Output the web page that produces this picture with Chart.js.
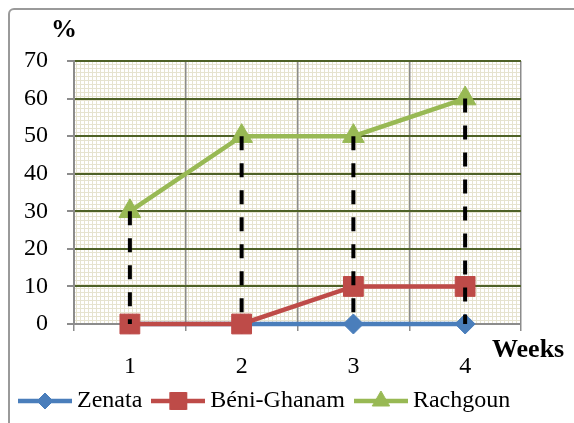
<!DOCTYPE html>
<html>
<head>
<meta charset="utf-8">
<script src="https://cdn.jsdelivr.net/npm/chart.js@4.4.1/dist/chart.umd.min.js"></script>
<style>
  html, body { margin: 0; padding: 0; background: #fff; overflow: hidden; }
  #wrap { position: relative; width: 574px; height: 423px; overflow: hidden; }
  #frame { position: absolute; left: 8px; top: 8px; width: 620px; height: 480px; border: 2px solid #9a9a9a; border-radius: 6px; pointer-events: none; }
  canvas { position: absolute; left: 0; top: 0; }
</style>
</head>
<body>
<div id="wrap">
  <canvas id="chart" width="574" height="423"></canvas>
  <div id="frame"></div>
</div>
<script>
// data
const weeks = ['1', '2', '3', '4'];
const zenata = [0, 0, 0, 0];
const beniGhanam = [0, 0, 10, 10];
const rachgoun = [30, 50, 50, 60];
const yTicks = [0, 10, 20, 30, 40, 50, 60, 70];

const FONT = "'Liberation Serif', 'Times New Roman', serif";
const BLUE = '#4a7ebb';
const RED = '#be4b48';
const GREEN = '#98b954';
const AXIS_GREY = '#8c8c8c';

// small grid fill of the plot area
function makePattern() {
    const c = document.createElement('canvas');
    c.width = 4; c.height = 4;
    const g = c.getContext('2d');
    g.fillStyle = '#ffffff';
    g.fillRect(0, 0, 4, 4);
    g.fillStyle = '#e6e3cf';
    g.fillRect(0, 0, 4, 1);
    g.fillRect(0, 0, 1, 4);
    return c;
}

// legend symbol: a line with the marker in the middle
function legendSymbol(color, style, radius) {
    const c = document.createElement('canvas');
    c.width = 54; c.height = 24;
    const g = c.getContext('2d');
    g.strokeStyle = color;
    g.lineWidth = 4.5;
    g.beginPath();
    g.moveTo(0, 12);
    g.lineTo(54, 12);
    g.stroke();
    g.fillStyle = color;
    g.lineWidth = 1;
    Chart.helpers.drawPoint(g, { pointStyle: style, radius: radius, borderWidth: 1, rotation: 0 }, 27, 12);
    return c;
}

const symbols = [
    legendSymbol(BLUE, 'rectRot', 8),
    legendSymbol(RED, 'rect', 12),
    legendSymbol(GREEN, 'triangle', 10)
];

const plotBackground = {
    id: 'plotBackground',
    beforeDraw(chart) {
        const { ctx, chartArea: a } = chart;
        ctx.save();
        ctx.fillStyle = ctx.createPattern(makePattern(), 'repeat');
        ctx.fillRect(a.left, a.top, a.right - a.left, a.bottom - a.top);
        ctx.restore();
    }
};

// black dashed drop lines from each Rachgoun point to the axis
const dropLines = {
    id: 'dropLines',
    afterDatasetsDraw(chart) {
        const { ctx, scales } = chart;
        ctx.save();
        ctx.strokeStyle = '#000';
        ctx.lineWidth = 4;
        ctx.setLineDash([14, 13]);
        rachgoun.forEach((v, i) => {
            const x = scales.x.getPixelForValue(i);
            ctx.beginPath();
            ctx.moveTo(x, scales.y.getPixelForValue(v));
            ctx.lineTo(x, scales.y.getPixelForValue(0));
            ctx.stroke();
        });
        ctx.restore();
    }
};

const axisTitles = {
    id: 'axisTitles',
    afterDraw(chart) {
        const { ctx, chartArea: a } = chart;
        ctx.save();
        ctx.fillStyle = '#000';
        ctx.font = 'bold 26px ' + FONT;
        ctx.textBaseline = 'middle';
        ctx.textAlign = 'center';
        ctx.fillText('%', a.left - 10, a.top - 31);
        ctx.textAlign = 'left';
        ctx.fillText('Weeks', a.right - 29, a.bottom + 26);
        ctx.restore();
    }
};

new Chart(document.getElementById('chart'), {
    type: 'line',
    data: {
        labels: weeks,
        datasets: [
            {
                label: 'Zenata', data: zenata, order: 3, clip: false,
                borderColor: BLUE, backgroundColor: BLUE, borderWidth: 4.5,
                pointStyle: 'rectRot', pointRadius: 10, pointBorderWidth: 1
            },
            {
                label: 'Béni-Ghanam', data: beniGhanam, order: 2, clip: false,
                borderColor: RED, backgroundColor: RED, borderWidth: 4.5,
                pointStyle: 'rect', pointRadius: 14, pointBorderWidth: 1
            },
            {
                label: 'Rachgoun', data: rachgoun, order: 1, clip: false,
                borderColor: GREEN, backgroundColor: GREEN, borderWidth: 4.5,
                pointStyle: 'triangle', pointRadius: 12.5, pointBorderWidth: 1
            }
        ]
    },
    options: {
        responsive: false,
        animation: false,
        layout: { padding: { left: 9, right: 10, top: 61, bottom: 0 } },
        scales: {
            x: {
                offset: true,
                grid: { offset: true, color: AXIS_GREY, lineWidth: 1.5, tickLength: 7, tickColor: AXIS_GREY },
                border: { color: AXIS_GREY, width: 2 },
                ticks: { color: '#000', font: { family: FONT, size: 24 }, padding: 21, maxRotation: 0 },
                afterFit(s) { s.height = 49; }
            },
            y: {
                min: 0, max: 70,
                afterBuildTicks(s) { s.ticks = yTicks.map(v => ({ value: v })); },
                grid: {
                    color: ctx => ctx.tick && ctx.tick.value === 0 ? 'rgba(0,0,0,0)' : '#4f6228',
                    lineWidth: 2, tickLength: 7, tickColor: AXIS_GREY
                },
                border: { color: AXIS_GREY, width: 2 },
                ticks: { color: '#000', font: { family: FONT, size: 24 }, padding: 19 },
                afterFit(s) { s.width = 65; }
            },
            yRight: {
                position: 'right',
                grid: { display: false },
                border: { display: false },
                ticks: { display: false },
                afterFit(s) { s.width = 43; }
            }
        },
        plugins: {
            tooltip: { enabled: false },
            legend: {
                position: 'bottom',
                align: 'start',
                labels: {
                    usePointStyle: true,
                    pointStyleWidth: 40,
                    padding: 16,
                    color: '#000',
                    font: { family: FONT, size: 24 },
                    sort: (a, b) => a.datasetIndex - b.datasetIndex,
                    generateLabels(chart) {
                        const items = Chart.defaults.plugins.legend.labels.generateLabels(chart);
                        items.forEach(it => { it.pointStyle = symbols[it.datasetIndex]; });
                        return items;
                    }
                }
            }
        }
    },
    plugins: [plotBackground, dropLines, axisTitles]
});
</script>
</body>
</html>
